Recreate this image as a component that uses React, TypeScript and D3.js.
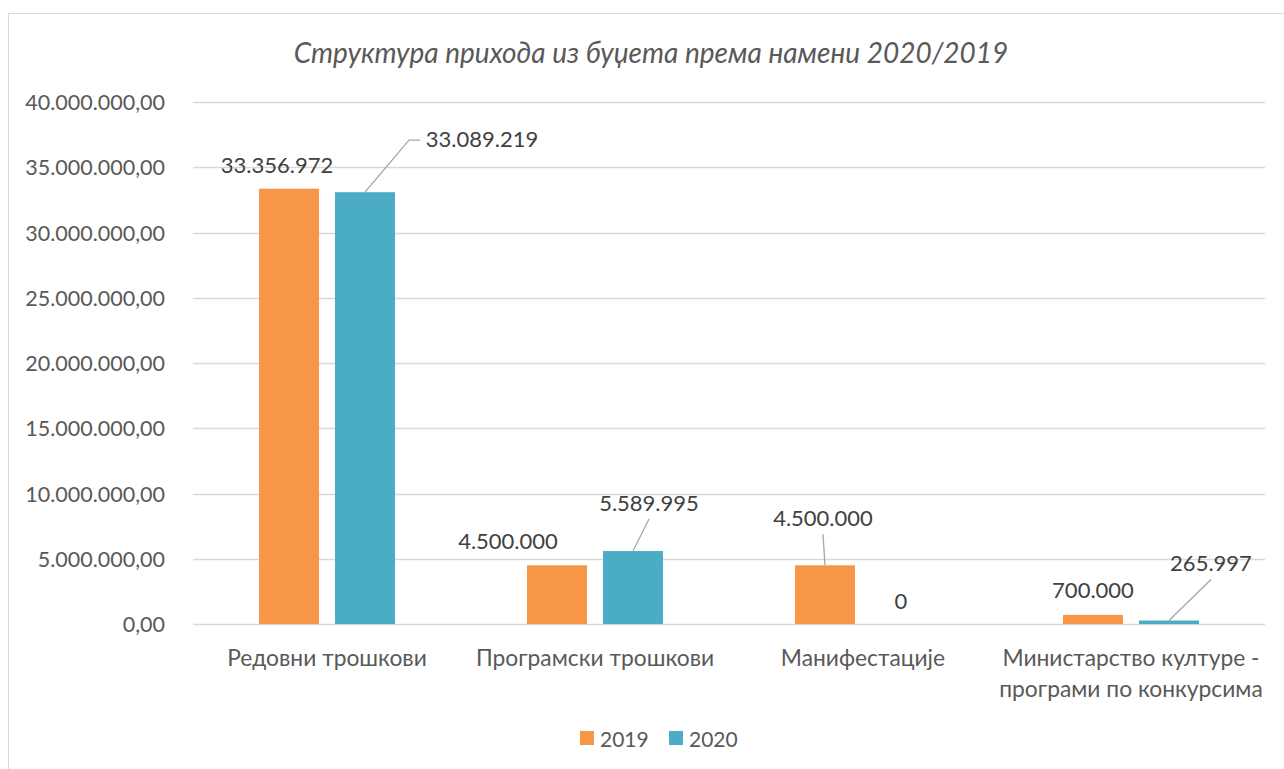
import React from "react";
import * as d3 from "d3";

const categories = ["Редовни трошкови", "Програмски трошкови", "Манифестације", "Министарство културе - програми по конкурсима"];
const categoryLines = [["Редовни трошкови"], ["Програмски трошкови"], ["Манифестације"], ["Министарство културе -", "програми по конкурсима"]];
const seriesNames = ["2019", "2020"];
const values2019 = [33356972, 4500000, 4500000, 700000];
const values2020 = [33089219, 5589995, 0, 265997];
const yTicks = [0, 5000000, 10000000, 15000000, 20000000, 25000000, 30000000, 35000000, 40000000];
const title = "Структура прихода из буџета према намени 2020/2019";

// layout (label offsets: [dx, dy] of label centre relative to bar top centre; leader flag)
const labelLayout2019 = [[-12, -24, false], [-49, -25, false], [-2, -48, true], [0, -25, false]];
const labelLayout2020 = [[117, -54, true], [16, -49, true], [0, -24, false], [42, -58, true]];

const colors = ["#F79646", "#4BACC6"];
const W = 1284, H = 769;
const left = 193, right = 1265, top = 102, bottom = 624;
const fmtNum = (v: number) => d3.format(",.0f")(v).replace(/,/g, ".");
const fmtTick = (v: number) => d3.format(",.2f")(v).replace(/,/g, "#").replace(".", ",").replace(/#/g, ".");

export default function App() {
  const x = d3.scaleBand<string>().domain(categories).range([left, right]);
  const y = d3.scaleLinear().domain([0, 40000000]).range([bottom, top]);
  const barW = 60, gap = 16;
  const font = "Lato, 'Open Sans', sans-serif";
  const series = [values2019, values2020];
  const layouts = [labelLayout2019, labelLayout2020];

  return (
    <svg width={W} height={H} style={{ position: "absolute", left: 0, top: 0 }} fontFamily={font}>
      <rect x={0} y={0} width={W} height={H} fill="#fff" />
      <rect x={8.5} y={13.5} width={1290} height={800} fill="#fff" stroke="#d9d9d9" strokeWidth={1} />
      <text x={651} y={52} textAnchor="middle" dominantBaseline="central" fontSize={28} fontStyle="italic" fill="#595959">{title}</text>
      {yTicks.map((t) => (
        <g key={t}>
          <line x1={left} x2={right} y1={Math.round(y(t)) + 0.5} y2={Math.round(y(t)) + 0.5} stroke="#d9d9d9" strokeWidth={1.3} />
          <text x={165} y={y(t)} textAnchor="end" dominantBaseline="central" fontSize={21.5} fill="#595959">{fmtTick(t)}</text>
        </g>
      ))}
      {categories.map((c, ci) => {
        const cx = x(c)! + x.bandwidth() / 2;
        return (
          <g key={c}>
            {series.map((vals, si) => {
              const bx = cx + (si === 0 ? -(barW + gap) / 2 : (barW + gap) / 2);
              const v = vals[ci];
              const yt = y(v);
              const [dx, dy, leader] = layouts[si][ci] as [number, number, boolean];
              const lx = bx + dx, ly = yt + dy;
              let path = "";
              if (leader) {
                if (si === 1 && ci === 0) {
                  path = `M${bx},${yt} L${lx - 73},${ly + 2} L${lx - 62},${ly + 2}`;
                } else {
                  path = `M${bx},${yt} L${lx},${ly + 17}`;
                }
              }
              return (
                <g key={si}>
                  {v > 0 && <rect x={bx - barW / 2} y={yt} width={barW} height={y(0) - yt} fill={colors[si]} />}
                  {leader && <path d={path} fill="none" stroke="#a6a6a6" strokeWidth={1.3} />}
                  <text x={lx} y={ly} textAnchor="middle" dominantBaseline="central" fontSize={22} fill="#404040">{fmtNum(v)}</text>
                </g>
              );
            })}
            {categoryLines[ci].map((ln, li) => (
              <text key={li} x={cx} y={657 + li * 31} textAnchor="middle" dominantBaseline="central" fontSize={22.8} fill="#595959">{ln}</text>
            ))}
          </g>
        );
      })}
      {seriesNames.map((s, i) => (
        <g key={s}>
          <rect x={580 + i * 89} y={731} width={14} height={14} fill={colors[i]} />
          <text x={600 + i * 89} y={738} dominantBaseline="central" fontSize={21} fill="#595959">{s}</text>
        </g>
      ))}
    </svg>
  );
}
